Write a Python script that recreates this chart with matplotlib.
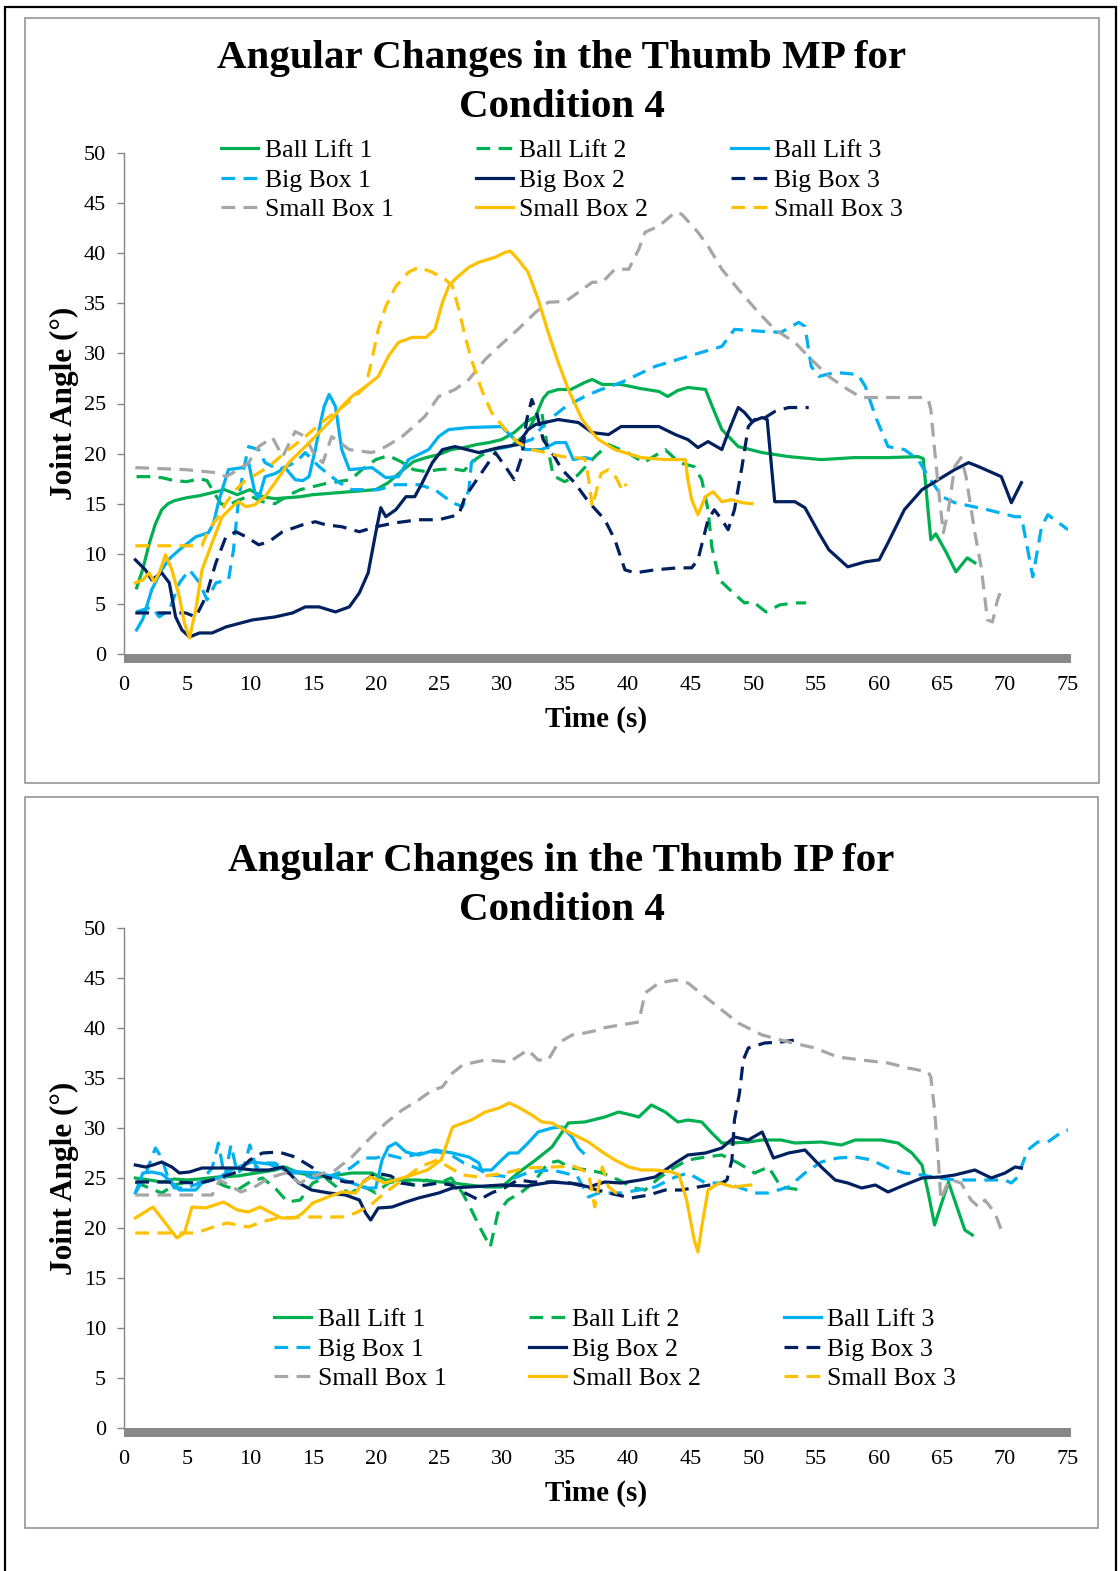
import matplotlib
matplotlib.use('Agg')
import matplotlib.pyplot as plt
from matplotlib.patches import Rectangle

plt.rcParams['font.family'] = ['Liberation Serif', 'DejaVu Serif']

# series names, colours and line styles (same for both panels)
labels = ['Ball Lift 1', 'Ball Lift 2', 'Ball Lift 3',
          'Big Box 1', 'Big Box 2', 'Big Box 3',
          'Small Box 1', 'Small Box 2', 'Small Box 3']
colors = ['#00B050', '#00B050', '#00B0F0',
          '#00B0F0', '#002060', '#002060',
          '#A6A6A6', '#FFC000', '#FFC000']
dashed = [False, True, False, True, False, True, True, False, True]

x_ticks = list(range(0, 80, 5))
y_ticks = list(range(0, 55, 5))

# ---- Thumb MP, (time s, angle deg) ----
mp_ball_lift_1 = [(1,6.6),(1.5,8.5),(2,11),(2.5,13),(3,14.4),(3.5,15),(4,15.3),(5,15.6),(6,15.8),(7,16.1),(8,16.4),(9,15.9),(10,16.4),(11,15.7),(12,15.5),(13,15.6),(14,15.7),(15,15.9),(16,16),(17,16.1),(18,16.2),(19,16.3),(20,16.4),(21,17.1),(22,18.2),(23,19.2),(24,19.6),(25,19.9),(26,20.4),(27,20.6),(28,20.9),(29,21.1),(30,21.4),(31,22.1),(32,23.2),(32.7,23.7),(33.3,25.5),(33.7,26.1),(34.5,26.4),(35.5,26.4),(36.6,27.1),(37.2,27.4),(38,26.9),(39.5,26.9),(41,26.5),(42.5,26.2),(43.2,25.7),(44,26.3),(44.8,26.6),(46.2,26.4),(46.8,24.5),(47.5,22.4),(48.8,20.7),(50.7,20.1),(52.8,19.7),(55.4,19.4),(58,19.6),(60.7,19.6),(63.1,19.7),(63.5,19.5),(64.1,11.4),(64.5,12),(65.3,10.2),(66.1,8.2),(67,9.6),(67.6,9.1)]
mp_ball_lift_2 = [(1,17.7),(2,17.7),(3,17.6),(4,17.3),(5,17.2),(6,17.5),(6.6,17.3),(7.2,16),(7.7,15),(8.2,14.8),(9,15.3),(10,15.8),(11,15.2),(12,15),(13,15.8),(14,16.4),(15,16.7),(16,17),(17,17.2),(18,17.4),(19,18.5),(20,19.4),(21,19.8),(22,19.2),(23,18.4),(24,18.2),(25,18.4),(26,18.5),(27,18.3),(28,19.5),(29,20.3),(30,20.6),(31,21),(32,22),(32.6,23.5),(33.2,24),(33.6,21),(34.1,17.8),(35,17.2),(36,17.8),(36.6,18.6),(37.5,19.8),(38.5,20.9),(40,20.1),(41.3,19.1),(42.2,19.8),(43,20.4),(44.1,19.1),(45.3,18.7),(45.9,17.4),(46.4,14.4),(46.7,10.7),(47.3,7.4),(48.4,6.1),(49.3,5.1),(50,5.2),(51,4.2),(52.1,4.9),(53.3,5.1),(54.2,5.1)]
mp_ball_lift_3 = [(1,2.4),(1.5,3.5),(2.2,6.4),(3,8.4),(3.6,9.5),(4.4,10.4),(5,11),(5.7,11.7),(6.7,12.1),(7.1,13),(7.5,15.1),(7.9,16.8),(8.3,18.4),(9.4,18.6),(9.9,19.1),(10.4,16.1),(10.7,15.5),(11.2,17.7),(12,18),(12.8,18.6),(13.6,17.4),(14.2,17.3),(14.7,17.7),(15.2,20.4),(15.6,23),(15.9,24.7),(16.3,25.9),(16.8,24.7),(17.3,20.4),(17.9,18.4),(19.7,18.6),(20.8,17.6),(21.8,17.7),(22.6,19.4),(24.2,20.4),(25,21.7),(25.8,22.4),(27.4,22.6),(30,22.7),(30.8,21.7),(31.9,20.4),(33.2,20.4),(34.3,21.1),(35.1,21.1),(35.7,19.4),(36.6,19.6),(37,19.5)]
mp_big_box_1 = [(1,4.2),(2.2,4.7),(2.8,3.7),(3.6,4.4),(4.4,7.1),(5.2,8.4),(6,7.1),(6.6,5.4),(7.3,7.1),(8.3,7.4),(8.7,10.4),(9.1,15.4),(9.5,18.4),(9.9,20.7),(10.7,20.4),(11.2,19.1),(12.3,18.4),(13.6,19.1),(14.4,20.1),(15.5,18.7),(16.5,17.7),(17.1,17.1),(18.1,16.4),(20.2,16.4),(21.6,16.9),(23.4,16.9),(24.7,16.4),(26.1,15.1),(26.9,14.7),(27.4,16.4),(27.6,19.1),(28.2,20.1),(30.6,20.7),(32.4,21.4),(33.5,23.1),(35.1,24.7),(36.6,25.7),(37.7,26.3),(39.5,27.1),(42.2,28.7),(44.8,29.7),(47.5,30.7),(48.5,32.4),(50.7,32.2),(52.2,32.1),(53.6,33.1),(54.1,32.7),(54.6,28.7),(55.2,27.7),(56.5,28.1),(58.3,27.9),(58.9,26.7),(59.7,23.7),(60.7,20.7),(62,20.4),(63.1,19.4),(63.9,17.7),(65,15.7),(66,15.1),(68.6,14.4),(70.8,13.7),(71.3,13.7),(71.8,10.4),(72.2,7.7),(72.9,12.7),(73.4,13.9),(75,12.4)]
mp_big_box_2 = [(0.9,9.4),(1.7,8.4),(2.2,7.4),(3,8.1),(3.6,7.1),(4.1,3.7),(4.6,2.4),(5.2,1.7),(6,2.1),(7,2.1),(8.1,2.7),(10.2,3.4),(12,3.7),(13.4,4.1),(14.4,4.7),(15.5,4.7),(16.8,4.2),(17.9,4.7),(18.7,6.1),(19.4,8.1),(20,12.1),(20.4,14.6),(20.8,13.7),(21.6,14.4),(22.4,15.7),(23.1,15.7),(23.7,17.1),(24.5,19.1),(25.3,20.4),(26.3,20.7),(28.2,20.1),(29.8,20.6),(31.3,20.9),(32.1,22.4),(32.7,22.9),(34.5,23.4),(36.1,23.1),(37.2,22.1),(38.5,21.9),(39.5,22.7),(42.5,22.7),(43.8,21.9),(44.8,21.4),(45.6,20.6),(46.4,21.2),(47.5,20.4),(48,22.1),(48.8,24.6),(49.3,24.1),(49.9,23.2),(50.7,23.6),(51.1,23.4),(51.7,15.2),(53.3,15.2),(54.1,14.6),(55.2,12.1),(56,10.4),(57.5,8.7),(58.9,9.2),(60,9.4),(60.7,11.1),(62,14.4),(63.4,16.4),(64.7,17.4),(66,18.4),(67.1,19.1),(67.9,18.7),(69.7,17.7),(70.5,15.1),(71.3,17.1)]
mp_big_box_3 = [(0.9,4.1),(4.9,4.1),(5.7,3.7),(6.5,5.7),(7.3,9.1),(8.1,11.7),(8.9,12.2),(9.7,11.7),(10.7,10.9),(11.5,11.2),(12.6,12.2),(14.2,12.9),(15.2,13.2),(16,12.9),(17.3,12.7),(18.7,12.2),(20,12.7),(21.6,13.1),(23.4,13.4),(25,13.4),(26.6,13.9),(27.1,15.7),(28.2,17.7),(29.5,20.1),(30.3,18.7),(31,17.4),(31.6,19.7),(32,23.4),(32.4,25.4),(32.8,24),(33.3,21.4),(34,20.1),(34.8,18.4),(35.8,17.1),(36.9,15.2),(38.2,13.4),(39,11.4),(39.8,8.4),(40.6,8.1),(42.2,8.4),(44,8.6),(45.1,8.6),(45.6,9.4),(46.4,13.4),(46.9,14.4),(47.5,13.4),(48,12.4),(48.5,14.4),(49.1,18.7),(49.6,22.7),(50.1,23.4),(50.7,23.4),(51.7,24.2),(52.8,24.6),(54.4,24.6)]
mp_small_box_1 = [(0.9,18.6),(4.9,18.4),(7.3,18.1),(8.1,17.7),(9.1,18.4),(9.9,19.1),(10.7,20.7),(11.8,21.6),(12.6,19.7),(13.6,22.2),(14.4,21.7),(15.2,19.7),(15.8,19.1),(16.5,21.7),(17.9,20.4),(19.7,20.1),(20.8,20.7),(22.1,21.7),(23.9,23.7),(25,25.7),(26.3,26.4),(27.4,27.4),(28.7,29.4),(29.8,30.7),(31.3,32.4),(32.7,34.1),(33.7,35.1),(35.1,35.2),(36.1,36.1),(37.2,37.1),(38,37.1),(39,38.4),(40.1,38.4),(40.9,40.4),(41.4,42.1),(42.5,42.7),(43.8,44.1),(44.3,43.9),(45.6,42.1),(46.4,40.7),(47.5,38.4),(48.8,36.4),(50.4,34.1),(51.7,32.4),(53.3,31.1),(54.6,29.4),(56,27.7),(57.5,26.4),(58.6,25.6),(60.7,25.6),(63.4,25.6),(63.9,25.4),(64.1,24.4),(64.4,20.4),(64.8,15.4),(65.1,12.1),(65.5,14.4),(66,18.7),(66.5,19.6),(66.9,17.7),(67.6,12.1),(68.1,8.7),(68.6,3.4),(69,3.2),(69.4,5.4),(69.7,6.4)]
mp_small_box_2 = [(0.9,7.1),(1.5,7.4),(2,8.1),(2.4,7.2),(2.8,8.1),(3.3,9.9),(3.8,8.4),(4.4,5.7),(4.8,3.1),(5.2,1.6),(5.7,4.4),(6.2,8.4),(7,11.1),(7.8,13.7),(8.6,14.7),(9.1,15.2),(9.7,14.7),(10.4,14.9),(11.2,15.7),(12,17.1),(13.1,19.1),(14.4,20.7),(15.5,22.1),(16.5,23.4),(17.3,24.7),(18.1,25.7),(19.2,26.7),(20.2,27.7),(21,29.7),(21.8,31.1),(22.9,31.6),(24,31.6),(24.7,32.4),(25.3,35.1),(25.8,36.7),(26.3,37.4),(27.4,38.6),(28.2,39.1),(29.5,39.6),(30.3,40.1),(30.7,40.2),(31.3,39.4),(32.1,38.1),(32.9,35.4),(33.7,32.1),(34.5,29.1),(35.3,26.4),(36.4,23.4),(37.2,22.1),(37.7,21.4),(39,20.4),(41.1,19.6),(43,19.4),(44.6,19.4),(44.8,17.4),(45.1,15.4),(45.6,13.9),(46.2,15.7),(46.8,16.2),(47.5,15.2),(48.3,15.4),(49.1,15.1),(49.9,15)]
mp_small_box_3 = [(0.9,10.8),(6.2,10.8),(6.7,12.4),(7.5,13.7),(8.1,15.1),(8.9,16.4),(9.7,17.4),(10.2,17.7),(11.5,18.7),(12.8,20.1),(14.4,21.7),(16,23.4),(17.1,24.4),(18.1,25.4),(19.2,26.7),(19.7,29.4),(20.2,32.4),(20.8,34.7),(21.6,36.7),(22.6,38.1),(23.4,38.6),(24.5,38.1),(25.5,37.4),(26.1,36.7),(26.6,34.4),(27.1,31.7),(27.6,29.4),(28.4,26.4),(29.2,24.1),(30.3,22.4),(31.3,21.1),(32.4,20.4),(33.5,20.1),(34.8,19.7),(35.8,19.6),(36.6,19.5),(36.9,17.6),(37.2,14.7),(37.9,18),(38.5,18.4),(39.1,17.6),(39.6,16.3),(39.9,17)]

# ---- Thumb IP, (time s, angle deg) ----
ip_ball_lift_1 = [(0.9,25),(2,24.8),(3,24.6),(4,24.9),(5,24.8),(6,24.9),(7.5,25.1),(9,25.2),(10.5,25.5),(12,25.8),(12.8,26.1),(13.9,25.5),(15.5,25.1),(17,25.3),(18.1,25.5),(19.7,25.5),(20.8,24.8),(23.4,24.8),(26.1,24.5),(28.7,24.1),(30,24.1),(31.3,25.5),(32.7,26.8),(34,28.1),(35.3,30.5),(36.6,30.6),(38.2,31.1),(39.3,31.6),(40.3,31.3),(40.9,31.1),(41.9,32.3),(43,31.6),(44,30.6),(44.8,30.8),(45.9,30.6),(46.7,29.5),(47.5,28.5),(48.3,28.5),(49.6,28.6),(50.7,28.8),(52.2,28.8),(53.3,28.5),(55.4,28.6),(57,28.3),(58.1,28.8),(60.2,28.8),(61.5,28.5),(62.6,27.5),(63.4,26.3),(63.9,23.5),(64.4,20.3),(65.5,24.6),(66.8,19.8),(67.4,19.3)]
ip_ball_lift_2 = [(0.9,24.6),(2,24),(3,23.5),(4,24.3),(5,24.6),(6,24.5),(7,24.8),(8,24.2),(9,23.8),(10,24.6),(11,25),(12,24),(13,22.6),(14,22.8),(15,24.5),(16,25),(17,24),(18,23.5),(19,24.2),(20,23.5),(21,24.5),(22,24.8),(23,24.3),(24,24.8),(25,24.5),(26,25),(26.9,23.5),(27.6,21.8),(28.3,20),(29.1,18.1),(29.7,21.5),(30.5,22.8),(31.5,23.5),(32.5,24.5),(33.7,26.5),(34.5,26.7),(35.5,26),(36.9,25.8),(38,25.5),(39.3,24.8),(40.5,24),(41.4,23.8),(42.5,25),(43.8,26.1),(44.8,26.8),(46.2,27.1),(47.5,27.3),(48.8,26.5),(50.1,25.5),(51.2,26.1),(52.2,24.1),(53.8,23.8)]
ip_ball_lift_3 = [(0.9,23.5),(1.5,25.5),(2.2,25.6),(3,25.4),(3.6,24.8),(4.4,23.8),(5.7,23.8),(6.2,24.5),(7.5,25),(8.5,25.8),(9.5,26.3),(10.2,26.6),(11.5,26.4),(12.8,25.8),(14,25.6),(15.5,25.5),(17,25),(18.1,24.5),(19.2,24),(20,24),(20.5,26.8),(21,28.1),(21.6,28.5),(22.4,27.6),(23.4,27.3),(24.7,27.8),(26.1,27.5),(27.4,27.1),(28.2,26.5),(28.4,25.8),(29.2,25.8),(30,26.8),(30.6,27.5),(31.3,27.5),(32.1,28.5),(32.9,29.6),(34,30),(34.8,30.1),(35.6,29.1),(36.1,28),(36.5,27.5)]
ip_big_box_1 = [(0.9,23.5),(1.6,25),(2.5,28),(3,27),(3.5,25),(4,24),(5,24),(6,24.5),(7,26),(7.5,28.5),(8,25),(8.5,28.3),(9,25.5),(9.5,26),(10,28.3),(10.5,26),(11,26.5),(12,26.5),(13,25.5),(14,25.5),(15,25),(16,25),(17,25.5),(18,26),(19,27),(20,27),(21,27.3),(22,27),(23,27.3),(24,27.6),(25,27.6),(26,27.3),(27,26.5),(28,26),(29,25.3),(30,25.2),(31,25),(32,25.5),(33,25.7),(34,25.8),(35,25.5),(36,25.2),(36.9,23.1),(37.7,23.5),(39.5,23.5),(40.9,23.8),(42.2,24.1),(43.8,25.1),(44.8,25.5),(46.2,24.5),(47.5,24.5),(48.8,24.1),(50.1,23.5),(51.2,23.5),(52.8,24.1),(54.1,25.5),(55.4,26.6),(56.7,27),(58.1,27.1),(59.4,26.8),(60.7,26),(62,25.5),(63.4,25.3),(64.7,25),(66,24.8),(68.6,24.8),(70,24.8),(70.5,24.5),(71,25.1),(71.3,26.1),(71.8,27.8),(72.6,28.6),(73.4,28.6),(74.5,29.6),(75,29.8)]
ip_big_box_2 = [(0.9,26.3),(1.7,26.1),(2.3,26.3),(3,26.6),(3.8,26.1),(4.4,25.5),(5.2,25.6),(6.2,26),(7.5,26),(8.9,26),(10.2,25.8),(11.5,25.8),(12.6,26.1),(13.1,25.5),(13.9,24.5),(14.9,23.8),(16.3,23.5),(17.6,23.3),(18.7,22.8),(19.2,21.5),(19.6,20.8),(20.2,22),(21.3,22.1),(22.4,22.6),(23.4,23),(25,23.5),(26.1,24),(27.4,24.1),(30,24.3),(32,24.2),(34,24.6),(36,24.4),(36.9,24.1),(38.2,24.6),(39.5,24.5),(41,24.8),(42.2,25.1),(43.8,26.5),(44.8,27.3),(46.2,27.5),(47.5,28),(48.5,29.1),(49.6,28.8),(50.7,29.6),(51.6,27),(52.8,27.5),(54.1,27.8),(55.4,26.1),(56.5,24.8),(57.5,24.5),(58.6,24),(59.7,24.3),(60.7,23.6),(62,24.3),(63.4,25),(64.9,25.1),(66,25.3),(67.6,25.8),(68.9,25),(70,25.5),(70.8,26.1),(71.3,26)]
ip_big_box_3 = [(0.9,24.6),(3,24.6),(6,24.5),(7,24.8),(8,25.2),(9,25.6),(10,26.8),(11,27.5),(12.3,27.6),(13.6,27.1),(14.9,26.1),(16,25.1),(17.6,24.6),(19,24.6),(20,25.5),(21.2,25.2),(22,24.5),(23.5,24.2),(25,24.5),(26,24.3),(27.1,23.5),(28.2,22.8),(29.2,23.5),(30.2,24),(31.3,24.8),(32.5,24.6),(34,24.6),(35.5,24.5),(37,24),(38.5,23.5),(40.3,23),(41.7,23.3),(43,23.8),(44.3,23.8),(45.6,24.1),(47.5,24.5),(47.9,24.8),(48.3,26.8),(48.5,30.8),(48.9,33.5),(49.2,36.8),(49.6,38),(50.9,38.5),(52.2,38.6),(53.3,38.8)]
ip_small_box_1 = [(0.9,23.3),(7,23.3),(7.6,24.8),(9.3,23.6),(10.5,24.2),(11.5,25),(12.8,25.5),(14,24.5),(15,25.2),(16.8,25.8),(18.1,27.1),(19.4,28.8),(20.8,30.5),(22.1,31.8),(23.4,32.8),(24.5,33.8),(25.3,34.1),(26.1,35.5),(26.9,36.3),(27.6,36.5),(28.7,36.8),(30.6,36.6),(32.1,37.8),(32.9,36.8),(33.7,36.8),(34.5,38.5),(35.6,39.3),(36.6,39.5),(37.7,39.8),(38,40),(40.9,40.6),(41.4,43.5),(42.5,44.5),(43.8,44.8),(44.8,44.5),(46.2,43.1),(47.5,41.8),(48.8,40.5),(50.7,39.3),(52.8,38.6),(54.9,38),(56.7,37.1),(58.6,36.8),(60.7,36.5),(62.3,36),(63.9,35.6),(64.1,35.1),(64.4,31.8),(64.7,26.8),(64.9,22.8),(65.3,24.1),(65.7,24.8),(66.5,24.5),(67.3,22.8),(67.9,22.1),(68.4,22.8),(69.2,21.5),(69.7,19.8)]
ip_small_box_2 = [(0.9,21),(2.3,22.1),(3.1,20.8),(4.2,19),(4.8,19.5),(5.4,22.1),(6.5,22),(7.9,22.6),(9,21.8),(9.9,21.6),(10.8,22.1),(12.5,21),(13.6,21),(14.2,21.5),(15,22.5),(16.2,23.1),(17.3,23.6),(18.4,23.5),(19,24.6),(19.6,25.1),(20.7,24.5),(22.4,25.1),(24.1,25.8),(25.2,26.8),(26.1,30.1),(27.6,30.8),(28.7,31.6),(29.8,32),(30.6,32.5),(31.3,32.1),(32.4,31.3),(33.2,30.6),(34,30.5),(35,29.8),(36.1,29.1),(36.9,28.6),(38,27.6),(39,26.8),(40.1,26.1),(41.1,25.8),(42.2,25.8),(43.5,25.6),(44.1,25.3),(44.7,22.8),(45.3,18.8),(45.6,17.6),(45.9,20.1),(46.4,23.8),(47.3,24.5),(48.4,24.1),(49.8,24.3)]
ip_small_box_3 = [(0.9,19.5),(5.7,19.5),(7.1,20.1),(8.2,20.5),(9.9,20.1),(10.9,20.6),(12.2,21),(14.2,21.1),(17.3,21.1),(18.4,21.5),(19.6,22.3),(20.7,23.5),(21.8,24.5),(23.5,26.1),(24.9,26.8),(25.8,26.1),(26.9,25.3),(28.2,25.1),(29.2,25.3),(30.3,25.5),(31.9,26),(34,26.1),(35.7,26.2),(36.9,25.5),(37.2,23.5),(37.4,22.1),(38,26.1),(38.5,24.1),(39.1,23.5),(39.6,24.1)]

mp_series = [mp_ball_lift_1, mp_ball_lift_2, mp_ball_lift_3, mp_big_box_1, mp_big_box_2,
             mp_big_box_3, mp_small_box_1, mp_small_box_2, mp_small_box_3]
ip_series = [ip_ball_lift_1, ip_ball_lift_2, ip_ball_lift_3, ip_big_box_1, ip_big_box_2,
             ip_big_box_3, ip_small_box_1, ip_small_box_2, ip_small_box_3]

W, H = 1120, 1571


def fx(px):
    return px / W


def fy(py):
    return 1 - py / H


fig = plt.figure(figsize=(W / 100, H / 100), dpi=100)

# outer black frame
fig.add_artist(Rectangle((fx(5), fy(1600)), fx(1116) - fx(5), fy(7) - fy(1600),
                         fill=False, edgecolor='black', linewidth=1.6))


def draw_panel(series, title, box, ax_px, title_y, legend_xy):
    # grey chart area border
    x0, y0, x1, y1 = box
    fig.add_artist(Rectangle((fx(x0), fy(y1)), fx(x1) - fx(x0), fy(y0) - fy(y1),
                             fill=False, edgecolor='#8C8C8C', linewidth=1.1))
    left, top, right, bottom = ax_px
    ax = fig.add_axes([fx(left), fy(bottom), fx(right) - fx(left), fy(top) - fy(bottom)])
    handles = []
    for pts, lab, col, dsh in zip(series, labels, colors, dashed):
        t = [p[0] for p in pts]
        v = [p[1] for p in pts]
        ls = (0, (4.3, 2.6)) if dsh else '-'
        ln, = ax.plot(t, v, color=col, linewidth=2.3, linestyle=ls, label=lab,
                      solid_joinstyle='round', dash_capstyle='butt')
        handles.append(ln)
    ax.set_xlim(0, 75)
    ax.set_ylim(0, 50)
    ax.set_xticks(x_ticks)
    ax.set_yticks(y_ticks)
    for s in ['top', 'right', 'bottom']:
        ax.spines[s].set_visible(False)
    ax.spines['left'].set_color('#868686')
    ax.spines['left'].set_linewidth(1.0)
    ax.tick_params(axis='y', direction='out', length=5, width=1.0, color='#868686',
                   labelsize=16, pad=8)
    ax.tick_params(axis='x', length=0, labelsize=16, pad=16)
    # grey floor under the plot
    fig.add_artist(Rectangle((fx(left), fy(bottom + 9)), fx(right + 3) - fx(left), fy(bottom) - fy(bottom + 9),
                             facecolor='#898989', edgecolor='none'))
    ax.set_ylabel('Joint Angle (°)', fontsize=22.5, fontweight='bold', va='center')
    ax.yaxis.set_label_coords((64 - left) / (right - left), 0.5)
    ax.set_xlabel('Time (s)', fontsize=21, fontweight='bold', va='center')
    ax.xaxis.set_label_coords(0.5, -65 / (bottom - top))
    fig.text(fx((x0 + x1) / 2), fy(title_y), title, fontsize=29.5, fontweight='bold',
             ha='center', va='center', linespacing=1.4)
    order = [0, 3, 6, 1, 4, 7, 2, 5, 8]
    ax.legend([handles[i] for i in order], [labels[i] for i in order], ncol=3,
              loc='upper left', bbox_to_anchor=(fx(legend_xy[0]), fy(legend_xy[1])),
              bbox_transform=fig.transFigure, frameon=False, fontsize=18.5,
              borderpad=0, borderaxespad=0, handlelength=1.45, handletextpad=0.25,
              columnspacing=3.2, labelspacing=0.26)
    return ax


draw_panel(mp_series, 'Angular Changes in the Thumb MP for\nCondition 4',
           (25, 18, 1099, 783), (124, 153, 1068, 654), 83, (221, 139))
draw_panel(ip_series, 'Angular Changes in the Thumb IP for\nCondition 4',
           (25, 797, 1098, 1528), (124, 928, 1068, 1428), 886, (274, 1308))

fig.savefig('out.png', dpi=100)
